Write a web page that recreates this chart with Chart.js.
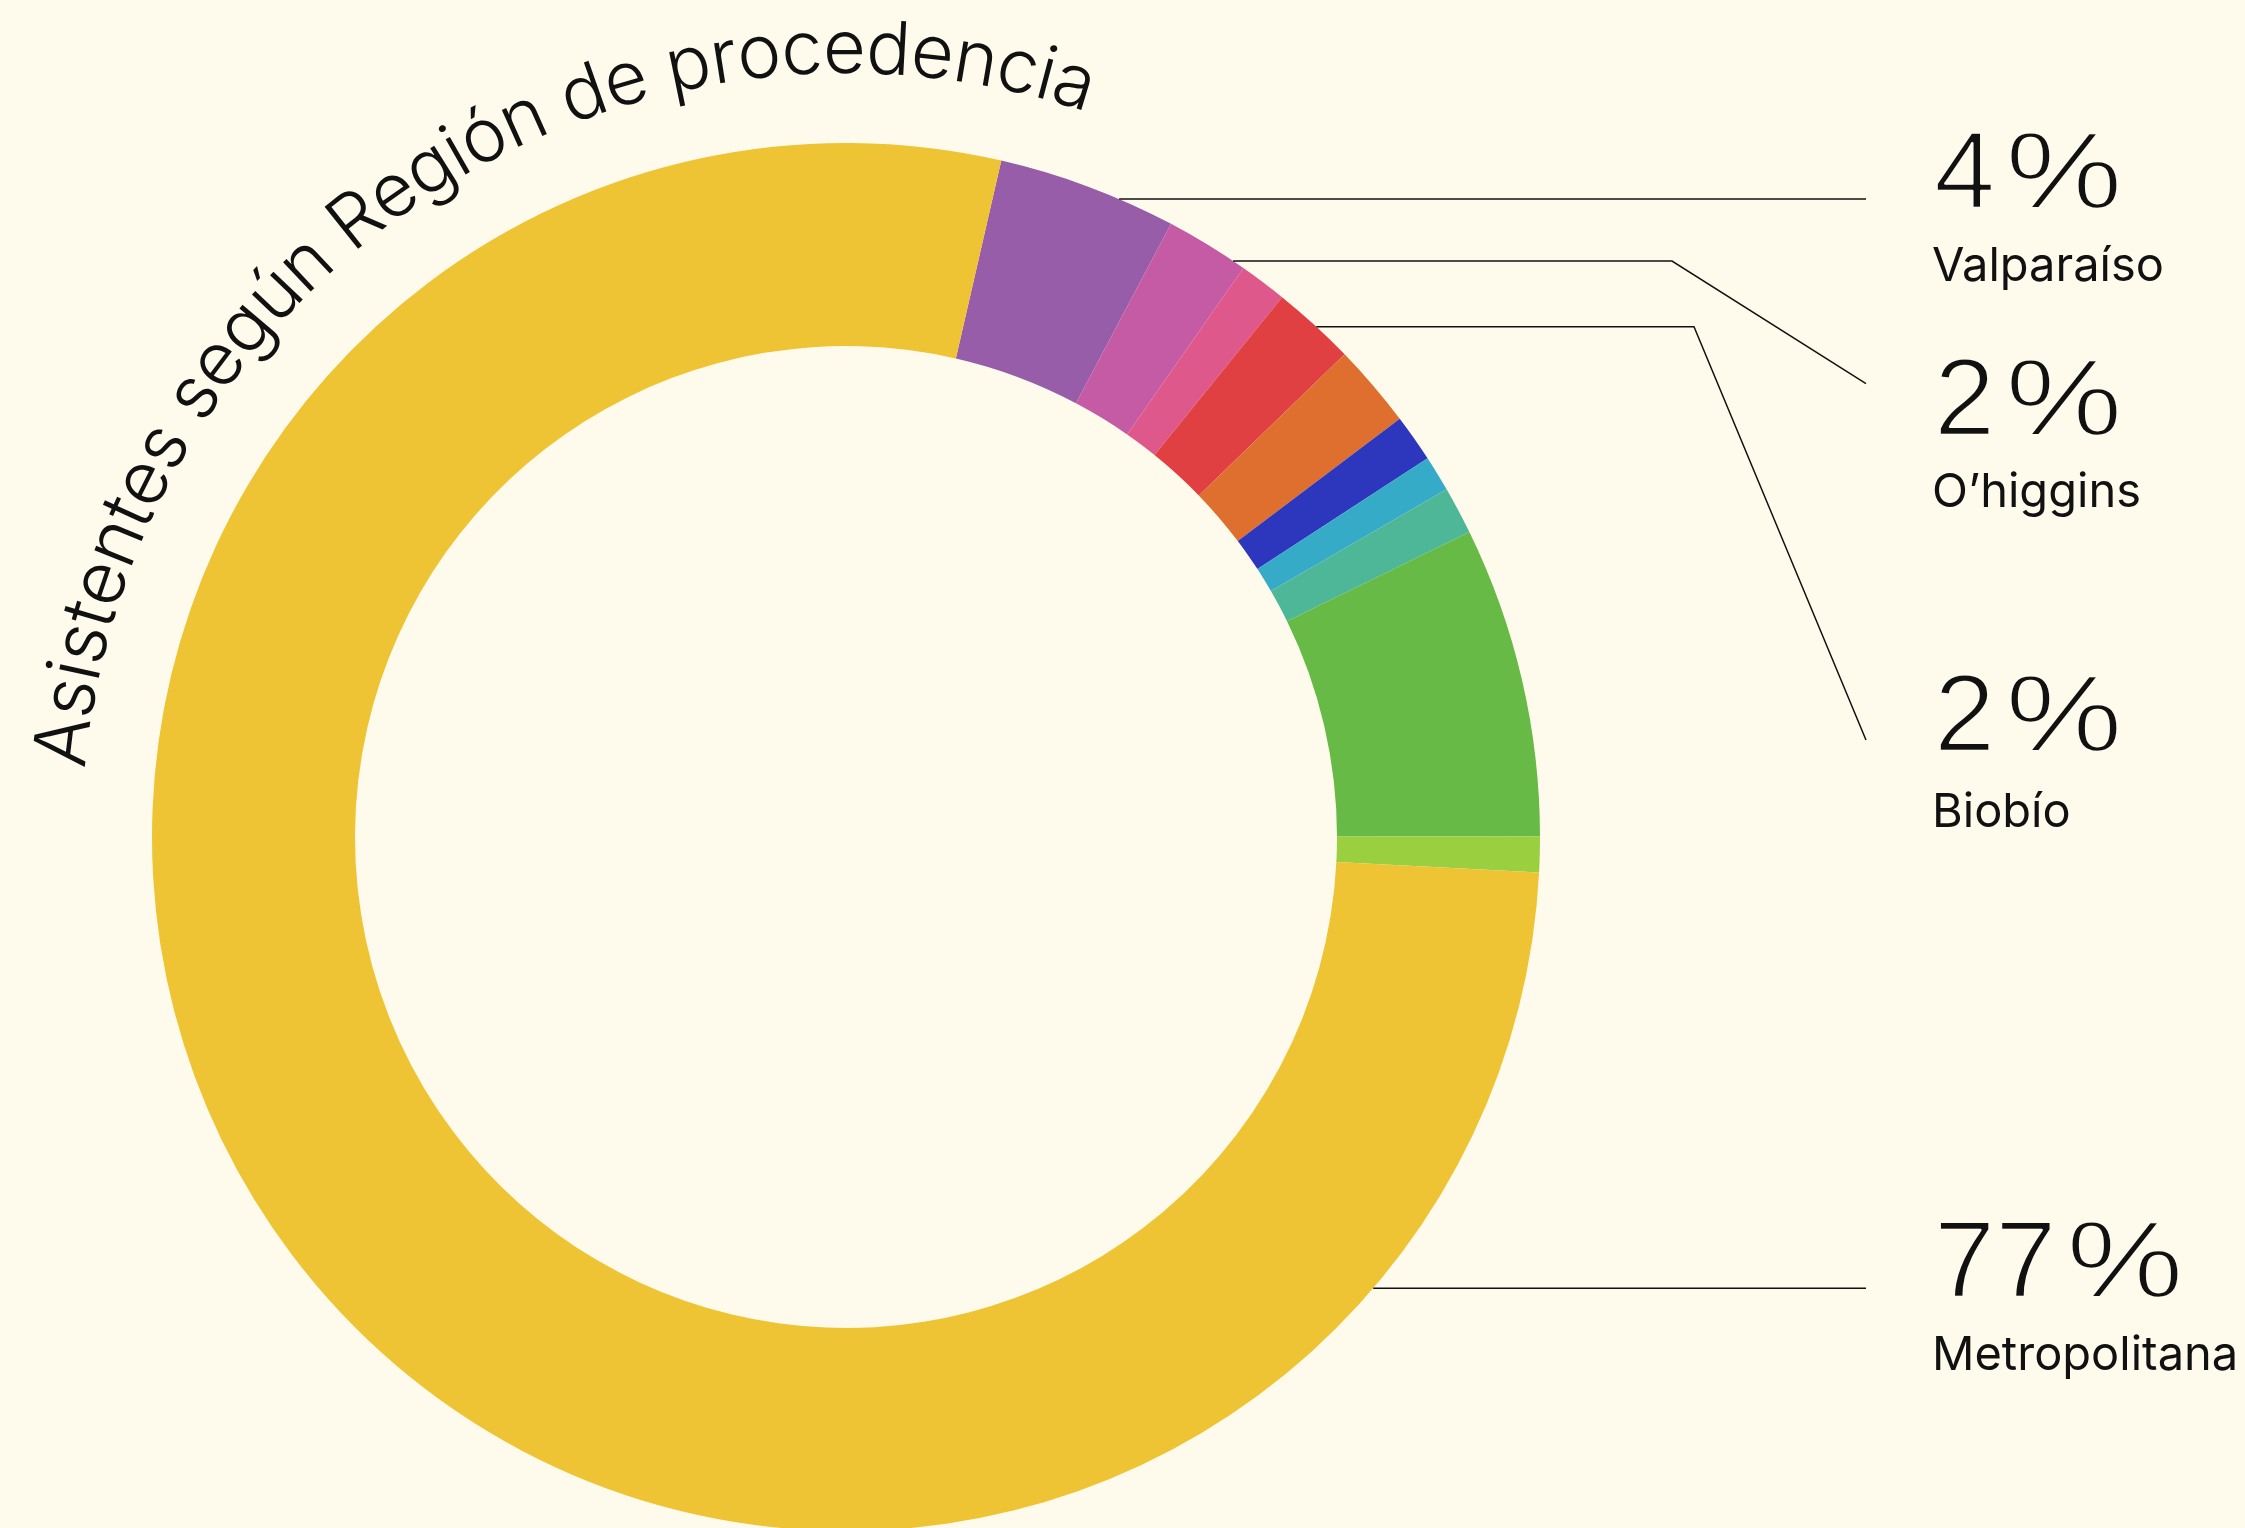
<!DOCTYPE html>
<html><head><meta charset="utf-8">
<script src="https://cdn.jsdelivr.net/npm/chart.js@4/dist/chart.umd.min.js"></script>
<style>
html,body{margin:0;padding:0;background:#FFFBEC;overflow:hidden;width:2245px;height:1528px}
#wrap{position:absolute;left:0;top:0;width:2245px;height:1600px}
canvas{display:block}
</style></head><body>
<div id="wrap"><canvas id="c" width="2245" height="1600"></canvas></div>
<script>
// ---- data (arc sizes in proportion) ----
const categories = ['Valparaíso', 'O’higgins', 'Región (rosa)', 'Biobío', 'Región (naranja)', 'Región (azul)', 'Región (celeste)', 'Región (turquesa)', 'Región (verde)', 'Región (verde claro)', 'Metropolitana'];
const values = [15, 7, 4, 7, 7, 4, 3, 4, 26, 3, 280];
const colors = ['#975DA8', '#C55BA5', '#DF588B', '#E14043', '#DF6F2F', '#2C37BE', '#35ABC8', '#4DB797', '#67BA46', '#9AD040', '#EEC435'];
const labelIndex = [0, 1, 3, 10];
const labelPercent = ['4%', '2%', '2%', '77%'];
const labelName = ['Valparaíso', 'O’higgins', 'Biobío', 'Metropolitana'];
const title = 'Asistentes según Región de procedencia';

// ---- layout ----
const BG = '#FFFBEC';
const layoutLines = {
  y: [199, 261, 326.7, 1288.3],
  elbowX: [null, 1672, 1694, null],
  endX: 1866,
  endY: [199, 383.7, 740, 1288.3],
  textX: 1934,
  pctBase: [208, 435, 751, 1297],
  nameBase: [281, 507, 827, 1370]
};
const titleLayout = { radius: 764, startDeg: -84.9, endDeg: 18.4, size: 74 };

function drawLight(ctx, s, x, y) {
  ctx.fillStyle = '#111';
  ctx.fillText(s, x, y);
  ctx.strokeStyle = BG;
  ctx.lineWidth = 2.6;
  ctx.strokeText(s, x, y);
}

const overlay = {
  id: 'overlay',
  afterDraw(chart) {
    const ctx = chart.ctx;
    const arc = chart.getDatasetMeta(0).data[0];
    const cx = arc.x, cy = arc.y, R = arc.outerRadius;
    ctx.save();
    // leader lines
    ctx.strokeStyle = '#111';
    ctx.lineWidth = 1.5;
    for (let i = 0; i < labelIndex.length; i++) {
      const y = layoutLines.y[i];
      const x0 = cx + Math.sqrt(Math.max(R * R - (y - cy) * (y - cy), 0));
      ctx.beginPath();
      ctx.moveTo(x0, y);
      if (layoutLines.elbowX[i] !== null) {
        ctx.lineTo(layoutLines.elbowX[i], y);
        ctx.lineTo(layoutLines.endX, layoutLines.endY[i]);
      } else {
        ctx.lineTo(layoutLines.endX, y);
      }
      ctx.stroke();
    }
    // labels
    ctx.textAlign = 'left';
    ctx.textBaseline = 'alphabetic';
    ctx.lineJoin = 'round';
    for (let i = 0; i < labelIndex.length; i++) {
      const s = labelPercent[i];
      const num = s.slice(0, -1), sign = s.slice(-1);
      ctx.font = '400 110px "Liberation Sans"';
      ctx.letterSpacing = '0px';
      const x = layoutLines.textX, y = layoutLines.pctBase[i];
      drawLight(ctx, num, x, y);
      const w = ctx.measureText(num).width;
      ctx.save();
      ctx.translate(x + w + 10, y);
      ctx.scale(1.2, 1);
      drawLight(ctx, sign, 0, 0);
      ctx.restore();
      ctx.font = '400 47px Inter';
      ctx.fillStyle = '#111';
      ctx.fillText(labelName[i], layoutLines.textX - 2, layoutLines.nameBase[i]);
    }
    // curved title
    ctx.fillStyle = '#111';
    ctx.font = '300 ' + titleLayout.size + 'px Inter';
    ctx.letterSpacing = '0px';
    ctx.textAlign = 'center';
    const chars = Array.from(title);
    const widths = chars.map(c => ctx.measureText(c).width);
    const total = widths.reduce((a, b) => a + b, 0);
    const rB = titleLayout.radius;
    const span = (titleLayout.endDeg - titleLayout.startDeg) * Math.PI / 180 * rB;
    const extra = (span - total) / (chars.length - 1);
    let off = 0;
    const th0 = (titleLayout.startDeg - 90) * Math.PI / 180;
    chars.forEach((ch, k) => {
      const th = th0 + (off + widths[k] / 2) / rB;
      ctx.save();
      ctx.translate(cx + rB * Math.cos(th), cy + rB * Math.sin(th));
      ctx.rotate(th + Math.PI / 2);
      ctx.fillText(ch, 0, 0);
      ctx.restore();
      off += widths[k] + extra;
    });
    ctx.restore();
  }
};

new Chart(document.getElementById('c'), {
  type: 'doughnut',
  data: {
    labels: categories,
    datasets: [{
      data: values,
      backgroundColor: colors,
      borderWidth: 0,
      hoverBorderWidth: 0,
      hoverOffset: 0,
      offset: 0
    }]
  },
  options: {
    responsive: false,
    devicePixelRatio: 1,
    animation: false,
    rotation: 12.93,
    cutout: 491,
    layout: { padding: { left: 152, top: 143, right: 705, bottom: 69 } },
    plugins: { legend: { display: false }, tooltip: { enabled: false } },
    events: []
  },
  plugins: [overlay]
});
</script>
</body></html>
